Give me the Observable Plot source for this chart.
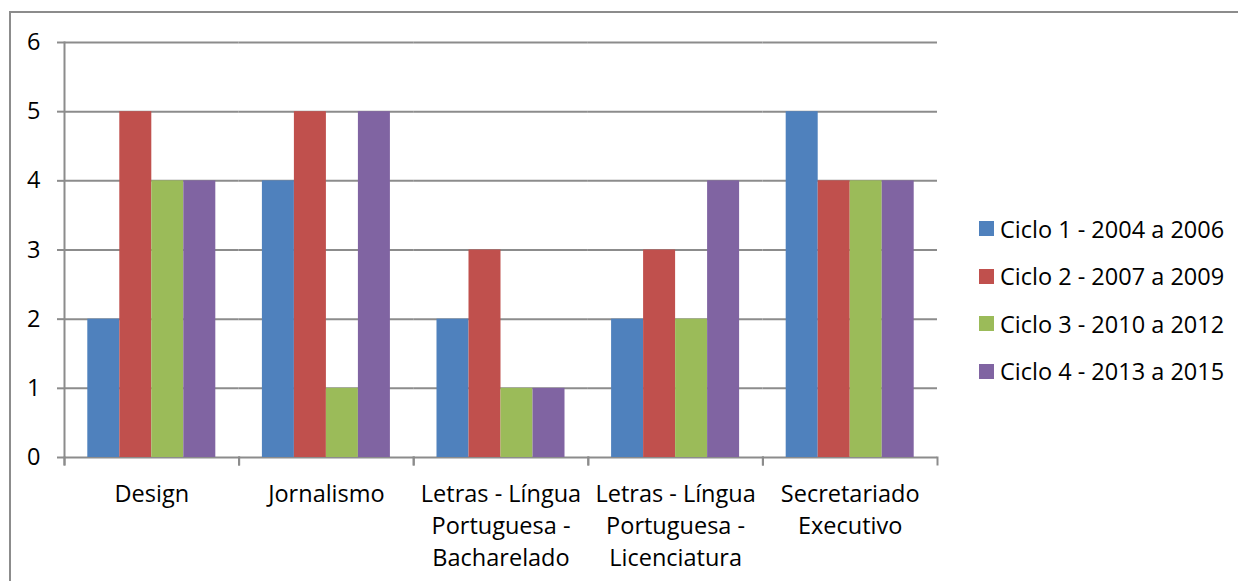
<!DOCTYPE html>
<html>
<head>
<meta charset="utf-8">
<script src="https://cdn.jsdelivr.net/npm/d3@7"></script>
<script src="https://cdn.jsdelivr.net/npm/@observablehq/plot@0.6"></script>
<style>
  html, body { margin: 0; padding: 0; background: #fff; overflow: hidden; }
  #wrap { position: relative; width: 1238px; height: 581px; overflow: hidden; font-family: "Open Sans", sans-serif; }
  #border { position: absolute; left: 9px; top: 11px; width: 1400px; height: 800px; border: 2px solid #8c8c8c; box-sizing: border-box; }
  #chart { position: absolute; left: 0; top: 0; }
  #legend { position: absolute; left: 979px; top: 205px; }
  .item { display: flex; align-items: center; height: 47.5px; font-size: 23.5px; color: #000; white-space: nowrap; }
  .sw { width: 15px; height: 15px; margin-right: 6px; }
</style>
</head>
<body>
<div id="wrap">
  <div id="border"></div>
  <div id="chart"></div>
  <div id="legend"></div>
</div>
<script>
const categories = ["Design", "Jornalismo", "Letras - Língua Portuguesa - Bacharelado", "Letras - Língua Portuguesa - Licenciatura", "Secretariado Executivo"];
const categoryLabels = ["Design", "Jornalismo", "Letras - Língua\nPortuguesa -\nBacharelado", "Letras - Língua\nPortuguesa -\nLicenciatura", "Secretariado\nExecutivo"];
const series = ["Ciclo 1 - 2004 a 2006", "Ciclo 2 - 2007 a 2009", "Ciclo 3 - 2010 a 2012", "Ciclo 4 - 2013 a 2015"];
const ciclo1 = [2, 4, 2, 2, 5];
const ciclo2 = [5, 5, 3, 3, 4];
const ciclo3 = [4, 1, 1, 2, 4];
const ciclo4 = [4, 5, 1, 4, 4];
const colors = ["#4F81BD", "#C0504D", "#9BBB59", "#8064A2"];
const yTicks = [0, 1, 2, 3, 4, 5, 6];

const seriesValues = [ciclo1, ciclo2, ciclo3, ciclo4];
const table = [];
categories.forEach((c, i) => series.forEach((s, j) => table.push({category: c, series: s, value: seriesValues[j][i]})));

const gridColor = "#8c8c8c";
const fs = 23.5;
const chart = Plot.plot({
  width: 1238,
  height: 581,
  marginLeft: 64,
  marginRight: 301,
  marginTop: 42,
  marginBottom: 124,
  style: {fontFamily: "'Open Sans', sans-serif", fontSize: fs + "px", color: "#000", background: "transparent"},
  fx: {domain: categories, padding: 0, round: false, label: null},
  x: {domain: series, paddingInner: 0, paddingOuter: 0.728, round: false, axis: null},
  y: {domain: [0, 6], axis: null},
  color: {domain: series, range: colors},
  marks: [
    Plot.ruleY(yTicks, {stroke: gridColor, strokeWidth: 2, strokeOpacity: 1}),
    Plot.barY(table, {fx: "category", x: "series", y: "value", fill: "series"}),
    Plot.axisY({ticks: yTicks, tickSize: 7, tickPadding: 17, stroke: gridColor, strokeWidth: 2, strokeOpacity: 1, fill: "#000", fontSize: fs, label: null, tickFormat: d => String(d)}),
    Plot.frame({anchor: "left", fx: () => categories[0], stroke: gridColor, strokeWidth: 2, strokeOpacity: 1, insetBottom: -7}),
    Plot.frame({anchor: "left", stroke: gridColor, strokeWidth: 2, strokeOpacity: 1, insetTop: 415, insetBottom: -7}),
    Plot.frame({anchor: "right", stroke: gridColor, strokeWidth: 2, strokeOpacity: 1, insetTop: 415, insetBottom: -7}),
    Plot.axisFx({anchor: "bottom", tickSize: 0, tickPadding: 22, fontSize: fs, lineHeight: 1.36, fill: "#000", label: null, tickFormat: d => categoryLabels[categories.indexOf(d)]})
  ]
});
document.getElementById("chart").appendChild(chart);

const legend = document.getElementById("legend");
series.forEach((s, i) => {
  const it = document.createElement("div");
  it.className = "item";
  const sw = document.createElement("span");
  sw.className = "sw";
  sw.style.background = colors[i];
  const tx = document.createElement("span");
  tx.textContent = s;
  it.appendChild(sw);
  it.appendChild(tx);
  legend.appendChild(it);
});
</script>
</body>
</html>
